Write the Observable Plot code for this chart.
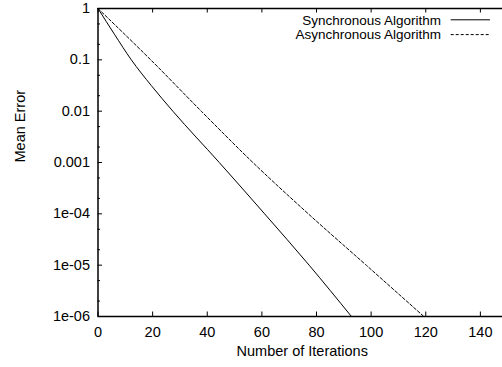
<!DOCTYPE html>
<html><head><meta charset="utf-8">
<script src="https://cdn.jsdelivr.net/npm/d3@7"></script>
<script src="https://cdn.jsdelivr.net/npm/@observablehq/plot@0.6"></script>
<style>
html,body{margin:0;padding:0;background:#fff;}
#chart svg{display:block;}
</style></head><body><div id="chart"></div>
<script>
const syncIterations = [0, 6, 12.2, 19.5, 27.4, 44.4, 61, 77.3, 92.8];
const syncError = [1, 0.316, 0.1, 0.0316, 0.01, 1e-3, 1e-4, 1e-5, 1e-6];
const asyncIterations = [0, 19.3, 37.8, 56.7, 77, 98.2, 119.3];
const asyncError = [1, 0.1, 0.01, 1e-3, 1e-4, 1e-5, 1e-6];
const xTicks = [0, 20, 40, 60, 80, 100, 120, 140];
const yTicks = [1, 0.1, 0.01, 0.001, 1e-4, 1e-5, 1e-6];
const yTickLabels = ["1", "0.1", "0.01", "0.001", "1e-04", "1e-05", "1e-06"];
const yMinorTicks = [0.5, 0.2, 0.05, 0.02, 0.005, 0.002, 5e-4, 2e-4, 5e-5, 2e-5, 5e-6, 2e-6];
const seriesNames = ["Synchronous Algorithm", "Asynchronous Algorithm"];
const xLabel = "Number of Iterations";
const yLabel = "Mean Error";

const syncData = syncIterations.map((x, i) => ({x, y: syncError[i]}));
const asyncData = asyncIterations.map((x, i) => ({x, y: asyncError[i]}));

const W = 502, H = 367, mL = 97.5, mT = 8, mB = 51, mR = 0;
const plotW = W - mL - mR, plotH = H - mT - mB;
const font = "'Liberation Sans', Arial, Helvetica, sans-serif";

function legendMark(index, scales, values, dims) {
  const g = d3.create("svg:g").attr("font-family", font).attr("font-size", "13.5px").attr("fill", "black");
  const right = dims.width - dims.marginRight;
  seriesNames.forEach((name, i) => {
    const y = dims.marginTop + 11.8 + i * 14.8;
    g.append("text").attr("x", right - 61).attr("y", y).attr("dy", "0.36em")
      .attr("text-anchor", "end").text(name);
    const ln = g.append("line").attr("x1", right - 51.3).attr("x2", right - 12)
      .attr("y1", y).attr("y2", y).attr("stroke", "black").attr("stroke-width", 1);
    if (i === 1) ln.attr("stroke-dasharray", "3,2");
  });
  return g.node();
}

const chart = Plot.plot({
  width: W, height: H,
  marginLeft: mL, marginTop: mT, marginBottom: mB, marginRight: mR,
  style: {fontFamily: font, fontSize: "14.5px", color: "black", background: "white"},
  x: {domain: [0, 148.1], label: null},
  y: {type: "log", domain: [1e-6, 1], label: null},
  marks: [
    Plot.axisX({ticks: xTicks, tickSize: 0, tickPadding: 10, label: null, fontSize: 14.5}),
    Plot.axisY({ticks: yTicks, tickSize: 0, tickPadding: 8, label: null, fontSize: 14.5,
      tickFormat: d => yTickLabels[yTicks.indexOf(d)]}),
    Plot.line(syncData, {x: "x", y: "y", stroke: "black", strokeWidth: 1, curve: "monotone-x", clip: true}),
    Plot.line(asyncData, {x: "x", y: "y", stroke: "black", strokeWidth: 1, strokeDasharray: "3,2", curve: "monotone-x", clip: true}),
    Plot.ruleX(xTicks, {stroke: "black", strokeWidth: 1, insetTop: plotH - 4.5}),
    Plot.ruleX(xTicks, {stroke: "black", strokeWidth: 1, insetBottom: plotH - 4.5}),
    Plot.ruleY(yTicks, {stroke: "black", strokeWidth: 1, insetRight: plotW - 4.5}),
    Plot.ruleY(yMinorTicks, {stroke: "black", strokeWidth: 1, insetRight: plotW - 2.5}),
    Plot.ruleX([0], {stroke: "black", strokeWidth: 1.5}),
    Plot.ruleY([1e-6], {stroke: "black", strokeWidth: 1.5}),
    Plot.ruleY([1], {stroke: "black", strokeWidth: 1.5}),
    Plot.text([xLabel], {frameAnchor: "bottom", dy: 35, dx: 2, lineAnchor: "middle", fontSize: 14.5, fill: "black"}),
    Plot.text([yLabel], {frameAnchor: "left", dx: -78, rotate: -90, lineAnchor: "middle", fontSize: 14.5, fill: "black"}),
    legendMark
  ]
});
document.getElementById("chart").appendChild(chart);
</script>
</body></html>
